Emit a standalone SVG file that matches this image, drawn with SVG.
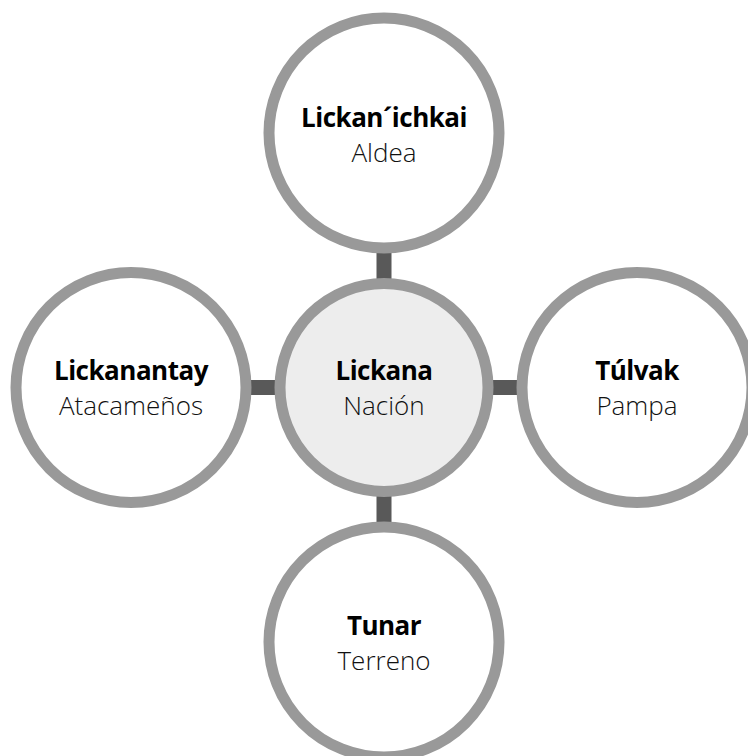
<svg xmlns="http://www.w3.org/2000/svg" width="748" height="756" viewBox="0 0 748 756">
<style>
.c{fill:#ffffff;stroke:#999999;stroke-width:11}
.ctr{fill:#ededed}
.conn{stroke:#595959;stroke-width:15;fill:none}
.t1{font-family:"Open Sans","Noto Sans","Liberation Sans",sans-serif;font-weight:700;font-size:26px;letter-spacing:-0.5px;fill:#000;text-anchor:middle}
.t2{font-family:"Open Sans","Noto Sans","Liberation Sans",sans-serif;font-weight:300;font-size:26px;fill:#111;text-anchor:middle}
</style>
<rect width="748" height="756" fill="#ffffff"/>
<g id="connectors">
<line class="conn" x1="384" y1="133" x2="384" y2="642"/>
<line class="conn" x1="131" y1="387.5" x2="637" y2="387.5"/>
</g>
<g id="node-top">
<circle class="c" cx="384" cy="133" r="115"/>
<text class="t1" x="384" y="127">Lickan´ichkai</text>
<text class="t2" x="384" y="162">Aldea</text>
</g>
<g id="node-left">
<circle class="c" cx="131" cy="387.5" r="115"/>
<text class="t1" x="131" y="380">Lickanantay</text>
<text class="t2" x="131" y="415">Atacameños</text>
</g>
<g id="node-right">
<circle class="c" cx="637" cy="387.5" r="115"/>
<text class="t1" x="637" y="380">Túlvak</text>
<text class="t2" x="637" y="415">Pampa</text>
</g>
<g id="node-bottom">
<circle class="c" cx="384" cy="642" r="115"/>
<text class="t1" x="384" y="635">Tunar</text>
<text class="t2" x="384" y="670">Terreno</text>
</g>
<g id="node-center">
<circle class="c ctr" cx="384" cy="387.5" r="104"/>
<text class="t1" x="384" y="380">Lickana</text>
<text class="t2" x="384" y="415">Nación</text>
</g>
</svg>
